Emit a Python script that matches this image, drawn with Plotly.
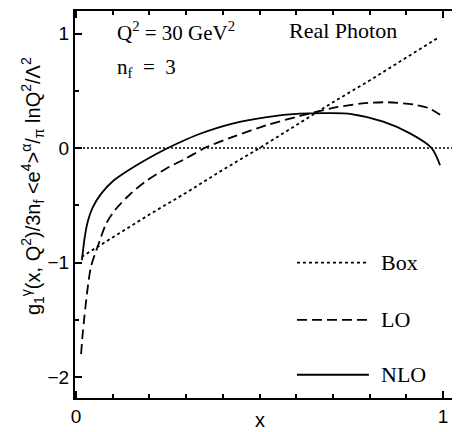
import plotly.graph_objects as go

# ---- data ----
box_x = [0.015, 0.1, 0.2, 0.3, 0.4, 0.5, 0.6, 0.7, 0.8, 0.9, 0.985]
box_y = [-0.95, -0.78, -0.58, -0.39, -0.19, 0.0, 0.20, 0.40, 0.59, 0.79, 0.96]

lo_x = [0.0136, 0.018, 0.0227, 0.032, 0.041, 0.059, 0.082, 0.109, 0.145, 0.19, 0.245,
        0.30, 0.35, 0.429, 0.52, 0.61, 0.70, 0.78, 0.85, 0.92, 0.96, 0.992]
lo_y = [-1.80, -1.62, -1.47, -1.21, -1.03, -0.86, -0.66, -0.53, -0.41, -0.29, -0.18,
        -0.09, 0.0, 0.10, 0.20, 0.28, 0.35, 0.39, 0.40, 0.38, 0.35, 0.29]

nlo_x = [0.016, 0.023, 0.032, 0.045, 0.068, 0.10, 0.145, 0.2, 0.25, 0.30, 0.338, 0.429,
         0.52, 0.61, 0.692, 0.75, 0.837, 0.91, 0.969, 0.992]
nlo_y = [-0.98, -0.79, -0.64, -0.52, -0.40, -0.29, -0.19, -0.085, 0.0, 0.075, 0.125, 0.215,
         0.27, 0.30, 0.305, 0.297, 0.23, 0.128, 0.0, -0.15]

legend_names = ["Box", "LO", "NLO"]
legend_dash = ["3px,3px", "10px,5px", "solid"]
legend_rows = [-1.0, -1.5, -1.98]

x_range = [-0.003, 1.0436]
y_range = [-2.183, 1.197]

SERIF = "Liberation Serif, Times New Roman, serif"
SANS = "Liberation Sans, Arial, Helvetica, sans-serif"

fig = go.Figure()

# zero line
fig.add_shape(type="line", xref="paper", yref="y", x0=0, x1=1, y0=0, y1=0,
              line=dict(color="black", width=1.4, dash="2px,2px"))

fig.add_trace(go.Scatter(x=box_x, y=box_y, mode="lines", name="Box",
                         line=dict(color="black", width=1.8, dash=legend_dash[0])))
fig.add_trace(go.Scatter(x=lo_x, y=lo_y, mode="lines", name="LO",
                         line=dict(color="black", width=1.8, dash=legend_dash[1],
                                   shape="spline", smoothing=0.8)))
fig.add_trace(go.Scatter(x=nlo_x, y=nlo_y, mode="lines", name="NLO",
                         line=dict(color="black", width=1.8, dash=legend_dash[2],
                                   shape="spline", smoothing=0.8)))

# legend drawn manually
for name, dash, yy in zip(legend_names, legend_dash, legend_rows):
    fig.add_shape(type="line", xref="x", yref="y", x0=0.602, x1=0.798, y0=yy, y1=yy,
                  line=dict(color="black", width=1.8, dash=dash))
    fig.add_annotation(x=0.826, y=yy, xref="x", yref="y", text=name, showarrow=False,
                       xanchor="left", yanchor="middle",
                       font=dict(family=SERIF, size=22, color="black"))

fig.add_annotation(x=0.105, y=1.02, xref="x", yref="y",
                   text="Q<sup>2</sup> = 30 GeV<sup>2</sup>", showarrow=False,
                   xanchor="left", yanchor="middle",
                   font=dict(family=SERIF, size=21, color="black"))
fig.add_annotation(x=0.105, y=0.70, xref="x", yref="y",
                   text="n<sub>f</sub>  =  3", showarrow=False,
                   xanchor="left", yanchor="middle",
                   font=dict(family=SERIF, size=21, color="black"))
fig.add_annotation(x=0.576, y=1.03, xref="x", yref="y",
                   text="Real Photon", showarrow=False,
                   xanchor="left", yanchor="middle",
                   font=dict(family=SERIF, size=22, color="black"))

# axis titles as annotations
fig.add_annotation(x=-0.109, y=0.548, xref="paper", yref="paper",
                   text="g<sub>1</sub><sup>\u03b3</sup>(x, Q<sup>2</sup>)/3n<sub>f</sub> &lt;e<sup>4</sup>&gt;<sup>\u03b1</sup>/<sub>\u03c0</sub> lnQ<sup>2</sup>/\u039b<sup>2</sup>",
                   textangle=-90, showarrow=False, xanchor="center", yanchor="middle",
                   font=dict(family=SANS, size=20, color="black"))
fig.add_annotation(x=0.5, y=-0.057, xref="x", yref="paper", text="x",
                   showarrow=False, xanchor="center", yanchor="middle",
                   font=dict(family=SANS, size=20, color="black"))

# the page body has an 8px margin; figure is sized to fill the 460x432 window
fig.update_layout(
    width=452, height=424,
    margin=dict(l=67, r=1, t=3, b=34),
    paper_bgcolor="white", plot_bgcolor="white",
    showlegend=False,
    font=dict(family=SANS, size=19, color="black"),
)
fig.update_xaxes(
    range=x_range, tickvals=[0, 1], ticktext=["0", "1"], automargin=False,
    ticks="inside", ticklen=7, tickwidth=1.5, tickcolor="black",
    minor=dict(dtick=0.1, tick0=0, ticks="inside", ticklen=4, tickwidth=1.5, tickcolor="black"),
    showline=True, linecolor="black", linewidth=2, mirror="allticks",
    showgrid=False, zeroline=False,
    tickfont=dict(family=SANS, size=19),
)
fig.update_yaxes(
    range=y_range, tickvals=[-2, -1, 0, 1], ticktext=["\u22122", "\u22121", "0", "1"],
    automargin=False,
    ticks="inside", ticklen=7, tickwidth=1.5, tickcolor="black",
    minor=dict(dtick=0.5, tick0=0, ticks="inside", ticklen=4, tickwidth=1.5, tickcolor="black"),
    showline=True, linecolor="black", linewidth=2, mirror="allticks",
    showgrid=False, zeroline=False,
    tickfont=dict(family=SANS, size=19),
)

fig.write_html("out.html")
